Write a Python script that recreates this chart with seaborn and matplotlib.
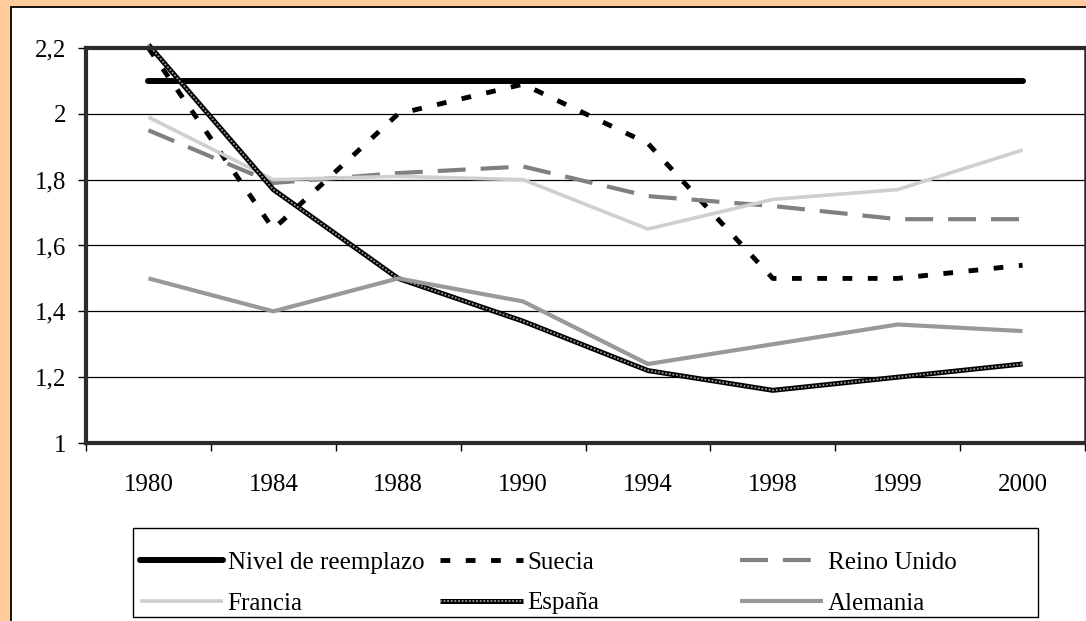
import matplotlib
matplotlib.use("Agg")
import matplotlib.pyplot as plt
import seaborn as sns
import pandas as pd
from matplotlib.patches import Rectangle
from matplotlib.lines import Line2D
from matplotlib.legend_handler import HandlerTuple

years = ["1980", "1984", "1988", "1990", "1994", "1998", "1999", "2000"]
nivel = [2.1, 2.1, 2.1, 2.1, 2.1, 2.1, 2.1, 2.1]
suecia = [2.2, 1.65, 2.0, 2.09, 1.91, 1.5, 1.5, 1.54]
reino_unido = [1.95, 1.79, 1.82, 1.84, 1.75, 1.72, 1.68, 1.68]
francia = [1.99, 1.8, 1.81, 1.8, 1.65, 1.74, 1.77, 1.89]
espana = [2.21, 1.77, 1.5, 1.37, 1.22, 1.16, 1.2, 1.24]
alemania = [1.5, 1.4, 1.5, 1.43, 1.24, 1.3, 1.36, 1.34]
series_names = ["Nivel de reemplazo", "Suecia", "Reino Unido", "Francia", "España", "Alemania"]
ytick_values = [1.0, 1.2, 1.4, 1.6, 1.8, 2.0, 2.2]
ytick_labels = ["1", "1,2", "1,4", "1,6", "1,8", "2", "2,2"]

sns.set_theme(style="white")
plt.rcParams["font.family"] = ["Liberation Serif", "DejaVu Serif"]
plt.rcParams["text.color"] = "black"
plt.rcParams["xtick.color"] = "black"
plt.rcParams["ytick.color"] = "black"

FS = 18
W, H = 1086, 621
fig = plt.figure(figsize=(W / 100, H / 100), dpi=100)
fig.patch.set_facecolor("#FFCC99")
fig.patches.append(Rectangle((11 / W, -0.01), 1.0, 1 - 7 / H + 0.01, transform=fig.transFigure,
                             facecolor="white", edgecolor="black", lw=1.3, zorder=-5))

ax = fig.add_axes([86 / W, 1 - 443 / H, 999 / W, 395 / H])
ax.set_facecolor("white")

# (color, linewidth, linestyle) for each layer of a series
styles = {
    "Nivel de reemplazo": [("black", 4.3, "-")],
    "Suecia": [("black", 3.5, (0, (2.0, 3.2)))],
    "Reino Unido": [("#808080", 3.0, (0, (6.7, 3.6)))],
    "Francia": [("#cfcfcf", 2.6, "-")],
    "España": [("black", 3.6, "-"), ("#9a9a9a", 1.3, (0, (1, 1)))],
    "Alemania": [("#999999", 3.0, "-")],
}
values = [nivel, suecia, reino_unido, francia, espana, alemania]

for name, vals in zip(series_names, values):
    df = pd.DataFrame({"year": years, "value": vals})
    for color, lw, ls in styles[name]:
        sns.lineplot(data=df, x="year", y="value", ax=ax, sort=False, legend=False,
                     color=color, linewidth=lw, linestyle=ls)
        ln = ax.lines[-1]
        ln.set_clip_on(False)
        ln.set_dash_capstyle("butt")
        ln.set_solid_capstyle("round" if name == "Nivel de reemplazo" else "butt")
        ln.set_solid_joinstyle("round")

ax.set_xlim(-0.5, 7.5)
ax.set_ylim(1.0, 2.2)
ax.set_xlabel("")
ax.set_ylabel("")

ax.set_yticks(ytick_values)
ax.set_yticklabels(ytick_labels)
ax.set_xticks(range(len(years)))
ax.set_xticklabels(years)
ax.set_xticks([i - 0.5 for i in range(len(years) + 1)], minor=True)
ax.tick_params(axis="x", which="major", length=0, pad=22, labelsize=FS, colors="black")
ax.tick_params(axis="x", which="minor", bottom=True, length=6, width=1, color="black")
ax.tick_params(axis="y", which="major", left=True, length=6, width=1, color="black",
               pad=8, labelsize=FS, labelcolor="black")

for y in ytick_values[1:-1]:
    ax.axhline(y, color="black", lw=0.9, zorder=0.5)

for s in ["top", "left", "bottom"]:
    ax.spines[s].set_color("#2b2b2b")
    ax.spines[s].set_linewidth(3.0)
ax.spines["right"].set_color("#2b2b2b")
ax.spines["right"].set_linewidth(1.8)

# legend box
fig.patches.append(Rectangle((133 / W, 1 - 617 / H), 905 / W, 89 / H, transform=fig.transFigure,
                             facecolor="white", edgecolor="black", lw=1.0, zorder=1))

columns = [["Nivel de reemplazo", "Francia"], ["Suecia", "España"], ["Reino Unido", "Alemania"]]
col_x = [140, 440, 740]
for names, x in zip(columns, col_x):
    hs = []
    for n in names:
        layers = tuple(
            Line2D([], [], color=c, lw=lw, ls=ls,
                   solid_capstyle="round" if n == "Nivel de reemplazo" else "butt",
                   dash_capstyle="butt")
            for c, lw, ls in styles[n]
        )
        hs.append(layers)
    leg = fig.legend(hs, names, loc="center left", bbox_to_anchor=(x / W, 1 - 583 / H),
                     frameon=False, fontsize=FS, handlelength=3.3, handletextpad=0.2,
                     labelspacing=0.72, borderpad=0, borderaxespad=0,
                     handler_map={tuple: HandlerTuple(ndivide=1, pad=0)})
    leg.set_zorder(2)

fig.savefig("out.png", dpi=100, facecolor=fig.get_facecolor())
